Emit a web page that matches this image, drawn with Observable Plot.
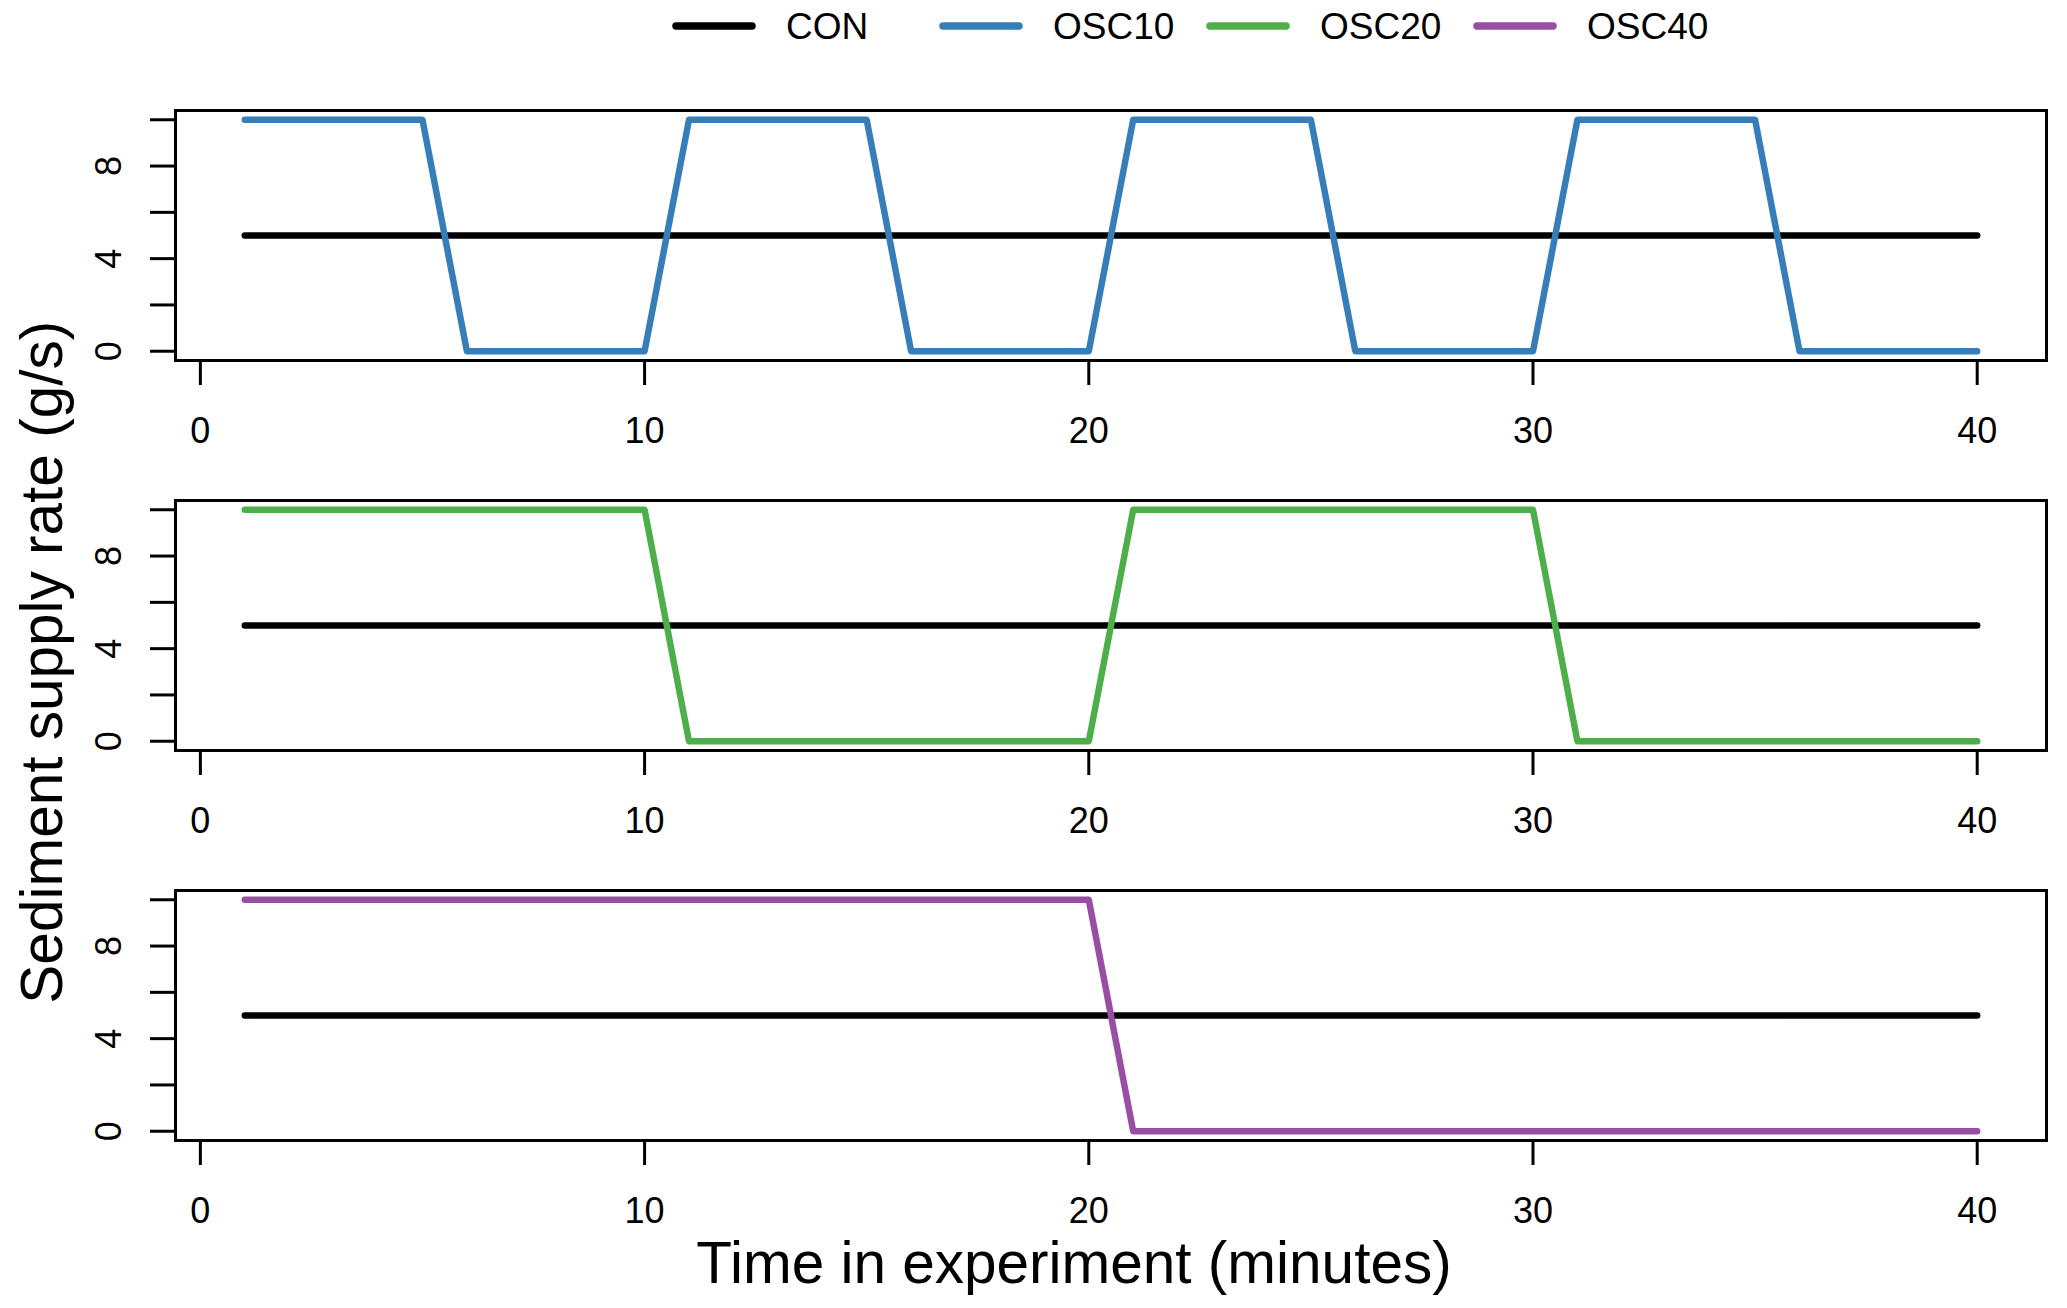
<!DOCTYPE html>
<html>
<head>
<meta charset="utf-8">
<script src="https://cdn.jsdelivr.net/npm/d3@7"></script>
<script src="https://cdn.jsdelivr.net/npm/@observablehq/plot@0.6"></script>
<style>
  html, body { margin: 0; padding: 0; background: white; }
  #wrap { position: relative; width: 2067px; height: 1308px; overflow: hidden; background: white;
          font-family: 'Liberation Sans', Arial, Helvetica, sans-serif; color: black; }
  #legend { position: absolute; left: 672px; top: 0; height: 52px; display: flex; align-items: center; }
  .item { display: flex; align-items: center; width: 267px; }
  .item svg { display: block; margin-right: 30px; }
  .item span { font-size: 37px; line-height: 1; }
  #xtitle { position: absolute; left: 0; width: 2148px; top: 1233.5px; text-align: center; font-size: 58.5px; line-height: 58.5px; white-space: nowrap; }
  #ytitle { position: absolute; left: -358.25px; top: 632.75px; width: 800px; height: 58.5px; text-align: center; font-size: 58.5px; line-height: 58.5px; white-space: nowrap; transform: rotate(-90deg); }
  #chart { position: absolute; left: 0; top: 0; }
</style>
</head>
<body>
<div id="wrap">
  <div id="chart"></div>
  <div id="legend"></div>
  <div id="xtitle"></div>
  <div id="ytitle"></div>
</div>
<script>
// ---- data ----
const time   = [1,2,3,4,5,6,7,8,9,10,11,12,13,14,15,16,17,18,19,20,21,22,23,24,25,26,27,28,29,30,31,32,33,34,35,36,37,38,39,40];
const con    = [5,5,5,5,5,5,5,5,5,5,5,5,5,5,5,5,5,5,5,5,5,5,5,5,5,5,5,5,5,5,5,5,5,5,5,5,5,5,5,5];
const osc10  = [10,10,10,10,10,0,0,0,0,0,10,10,10,10,10,0,0,0,0,0,10,10,10,10,10,0,0,0,0,0,10,10,10,10,10,0,0,0,0,0];
const osc20  = [10,10,10,10,10,10,10,10,10,10,0,0,0,0,0,0,0,0,0,0,10,10,10,10,10,10,10,10,10,10,0,0,0,0,0,0,0,0,0,0];
const osc40  = [10,10,10,10,10,10,10,10,10,10,10,10,10,10,10,10,10,10,10,10,0,0,0,0,0,0,0,0,0,0,0,0,0,0,0,0,0,0,0,0];
const seriesNames = ["CON", "OSC10", "OSC20", "OSC40"];
const seriesColors = ["#000000", "#377EB8", "#4DAF4A", "#984EA3"];
const panels = ["OSC10", "OSC20", "OSC40"];
const xTicks = [0, 10, 20, 30, 40];
const yTicks = [0, 2, 4, 6, 8, 10];
const yTickLabels = [0, 4, 8];
const xTitle = "Time in experiment (minutes)";
const yTitle = "Sediment supply rate (g/s)";

// ---- tables ----
const oscBy = {OSC10: osc10, OSC20: osc20, OSC40: osc40};
const conRows = [], oscRows = [];
for (const p of panels) {
  time.forEach((t, i) => {
    conRows.push({panel: p, series: "CON", t, v: con[i]});
    oscRows.push({panel: p, series: p, t, v: oscBy[p][i]});
  });
}

const font = "'Liberation Sans', Arial, Helvetica, sans-serif";
const chart = Plot.plot({
  width: 2067,
  height: 1308,
  marginTop: 109.5,
  marginBottom: 167.5,
  marginLeft: 175,
  marginRight: 21,
  style: {fontFamily: font, fontSize: "36px", background: "white", color: "black", overflow: "visible"},
  x: {domain: [-0.56, 41.56]},
  y: {domain: [-0.4, 10.4]},
  fy: {domain: panels, paddingInner: 0.3598, paddingOuter: 0, axis: null},
  color: {domain: seriesNames, range: seriesColors},
  marks: [
    Plot.line(conRows, {x: "t", y: "v", fy: "panel", stroke: "series", strokeWidth: 6.5}),
    Plot.line(oscRows, {x: "t", y: "v", fy: "panel", stroke: "series", strokeWidth: 6.5}),
    Plot.frame({stroke: "black", strokeWidth: 3}),
    Plot.axisX({ticks: xTicks, tickSize: 25, tickPadding: 31.5, strokeWidth: 3, fontSize: 36, label: null, facetAnchor: null}),
    Plot.axisY({ticks: yTicks, tickFormat: d => yTickLabels.includes(d) ? String(d) : "", tickSize: 25, tickPadding: 30, tickRotate: -90, strokeWidth: 3, fontSize: 36, label: null, facetAnchor: null})
  ]
});
document.getElementById("chart").appendChild(chart);

// ---- legend ----
const legend = d3.select("#legend");
seriesNames.forEach((name, i) => {
  const item = legend.append("div").attr("class", "item");
  const sv = item.append("svg").attr("width", 84).attr("height", 12);
  sv.append("line").attr("x1", 4).attr("x2", 80).attr("y1", 6).attr("y2", 6)
    .attr("stroke", seriesColors[i]).attr("stroke-width", 7.5).attr("stroke-linecap", "round");
  item.append("span").text(name);
});
d3.select("#xtitle").text(xTitle);
d3.select("#ytitle").text(yTitle);
</script>
</body>
</html>
